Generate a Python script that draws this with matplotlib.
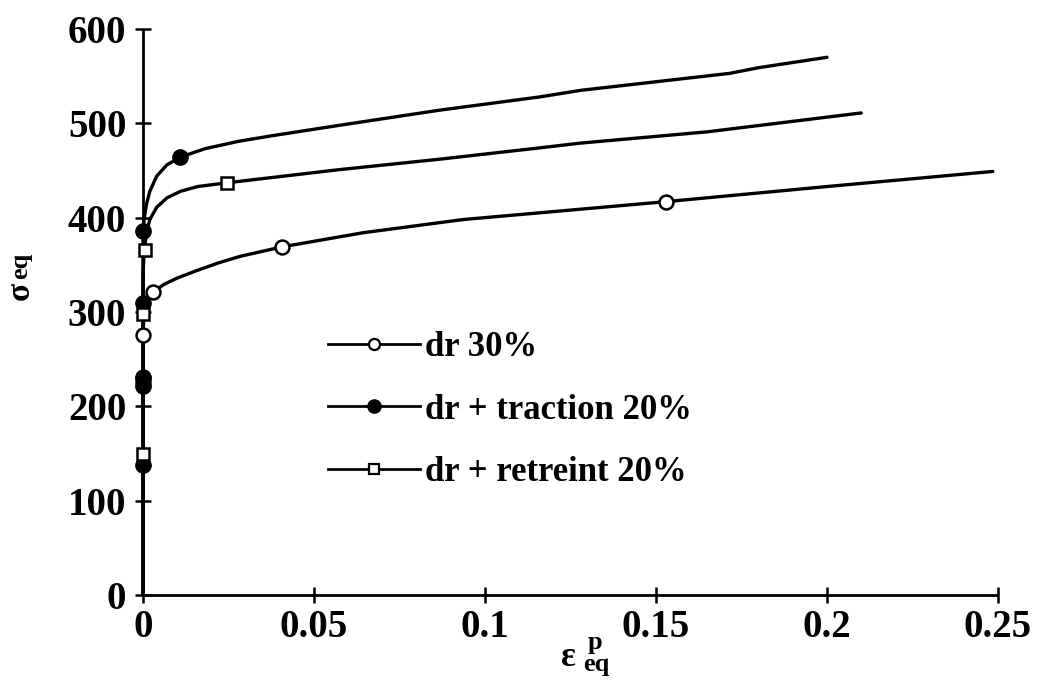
import matplotlib
matplotlib.use("Agg")
import matplotlib.pyplot as plt
from matplotlib.lines import Line2D

# ---- data ----
# dr 30%
dr30_x = [0.0, 0.0, 0.0005, 0.0015, 0.003, 0.006, 0.010, 0.0158, 0.022, 0.0284, 0.0406, 0.0643, 0.0936, 0.128, 0.153, 0.2, 0.2485]
dr30_y = [0, 282, 301, 312, 321, 329, 336, 344, 352, 359, 369, 384, 398, 409, 417, 433, 449]
dr30_mx = [0.0, 0.0, 0.0, 0.003, 0.0406, 0.153]
dr30_my = [226, 231, 276, 321, 369, 417]

# dr + traction 20%
trac_x = [0.0, 0.0, 0.0003, 0.001, 0.002, 0.004, 0.007, 0.0108, 0.018, 0.028, 0.038, 0.0576, 0.0868, 0.116, 0.128, 0.1716, 0.18, 0.2]
trac_y = [0, 380, 398, 414, 428, 444, 456, 464, 473, 481, 487, 498, 514, 528, 535, 553, 559, 570]
trac_mx = [0.0, 0.0, 0.0, 0.0, 0.0, 0.0108]
trac_my = [138, 222, 230, 310, 386, 464]

# dr + retreint 20%
retr_x = [0.0, 0.0, 0.0003, 0.001, 0.002, 0.004, 0.007, 0.011, 0.016, 0.0246, 0.0576, 0.0868, 0.116, 0.1278, 0.165, 0.21]
retr_y = [0, 340, 362, 384, 398, 411, 421, 428, 433, 437, 451, 462, 474, 479, 491, 511]
retr_mx = [0.0, 0.0, 0.0005, 0.0246]
retr_my = [150, 298, 366, 437]

labels = ["dr 30%", "dr + traction 20%", "dr + retreint 20%"]
xticks = [0, 0.05, 0.1, 0.15, 0.2, 0.25]
xticklabels = ["0", "0.05", "0.1", "0.15", "0.2", "0.25"]
yticks = [0, 100, 200, 300, 400, 500, 600]

# ---- figure ----
SERIF = ["Liberation Serif", "DejaVu Serif"]
fig = plt.figure(figsize=(10.44, 6.80), dpi=100)
ax = fig.add_axes([143 / 1044, 85 / 680, (998 - 143) / 1044, (595 - 29) / 680])

lw = 2.4
for xs, ys in [(dr30_x, dr30_y), (trac_x, trac_y), (retr_x, retr_y)]:
    ax.plot(xs, ys, color="black", lw=lw, solid_joinstyle="round", solid_capstyle="round", zorder=2)

ax.plot(dr30_mx, dr30_my, ls="none", marker="o", ms=10, mfc="white", mec="black", mew=1.8, zorder=3)
ax.plot(trac_mx, trac_my, ls="none", marker="o", ms=11, mfc="black", mec="black", zorder=3)
ax.plot(retr_mx, retr_my, ls="none", marker="s", ms=8.5, mfc="white", mec="black", mew=1.8, zorder=3)

ax.set_xlim(0, 0.25)
ax.set_ylim(0, 600)
ax.set_xticks(xticks)
ax.set_xticklabels(xticklabels)
ax.set_yticks(yticks)
for s in ["top", "right"]:
    ax.spines[s].set_visible(False)
for s in ["left", "bottom"]:
    ax.spines[s].set_linewidth(2.0)
    ax.spines[s].set_capstyle("butt")
ax.tick_params(direction="inout", length=12, width=1.8)
ax.tick_params(axis="x", pad=4)
ax.tick_params(axis="y", pad=6)
for lab in ax.get_xticklabels() + ax.get_yticklabels():
    lab.set_fontfamily(SERIF)
    lab.set_fontweight("bold")
    lab.set_fontsize(28)
for l in ax.lines:
    l.set_clip_on(False)

# legend
handles = [
    Line2D([], [], color="black", lw=2.0, marker="o", ms=8, mfc="white", mec="black", mew=1.6),
    Line2D([], [], color="black", lw=2.0, marker="o", ms=9.5, mfc="black", mec="black"),
    Line2D([], [], color="black", lw=2.0, marker="s", ms=6.5, mfc="white", mec="black", mew=1.6),
]
leg = ax.legend(handles, labels, loc="upper left",
                bbox_to_anchor=(328 / 1044, 1 - 331 / 680), bbox_transform=fig.transFigure,
                frameon=False, borderpad=0, borderaxespad=0, handlelength=2.65,
                handletextpad=0.15, labelspacing=0.85,
                prop={"family": SERIF, "weight": "bold", "size": 25})

# axis labels (manual placement)
fig.text(20 / 1044, 1 - 291 / 680, "σ", rotation=90, ha="center", va="center",
         fontsize=24, fontweight="bold", family=SERIF)
fig.text(21 / 1044, 1 - 266 / 680, "eq", rotation=90, ha="center", va="center",
         fontsize=19, fontweight="bold", family=SERIF)
fig.text(568 / 1044, 1 - 657 / 680, "ε", ha="center", va="center",
         fontsize=25, fontweight="bold", family=SERIF)
fig.text(595 / 1044, 1 - 643 / 680, "p", ha="center", va="center",
         fontsize=19, fontweight="bold", family=SERIF)
fig.text(596 / 1044, 1 - 665 / 680, "eq", ha="center", va="center",
         fontsize=19, fontweight="bold", family=SERIF)

fig.savefig("out.png", dpi=100)
